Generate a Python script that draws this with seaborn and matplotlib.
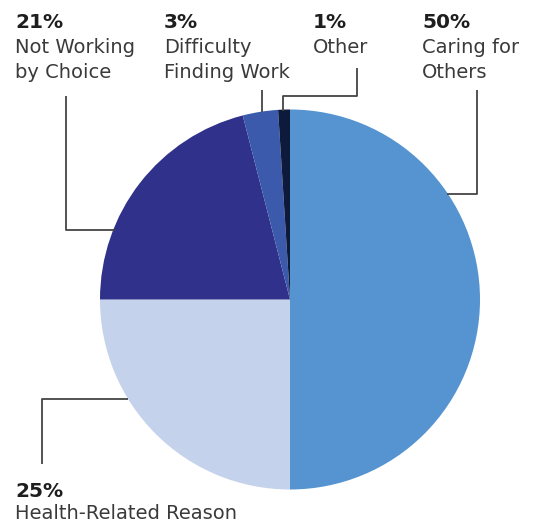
import matplotlib
matplotlib.use("Agg")
import matplotlib.pyplot as plt
import seaborn as sns

# data
categories = ["Caring for\nOthers", "Health-Related Reason", "Not Working\nby Choice",
              "Difficulty\nFinding Work", "Other"]
shares = [50, 25, 21, 3, 1]
colors = ["#5594d1", "#c5d2eb", "#2f318b", "#3b5aac", "#0d1a3b"]

sns.set_style("white")
plt.rcParams["font.family"] = ["DejaVu Sans"]

fig = plt.figure(figsize=(5.47, 5.29), dpi=100)
ax = fig.add_axes([0, 0, 1, 1])

# y axis is flipped later, so counterclock in data = clockwise on screen
ax.pie(shares, colors=colors, startangle=270, counterclock=True,
       center=(290, 299.5), radius=190,
       wedgeprops=dict(linewidth=0))
ax.set_xlim(0, 547)
ax.set_ylim(529, 0)
ax.set_aspect("equal")
ax.axis("off")

# leader lines
line_kw = dict(color="#444444", linewidth=1.3, solid_capstyle="butt")
ax.plot([476.5, 476.5, 447], [90, 193.5, 193.5], **line_kw)
ax.plot([65.5, 65.5, 115], [96, 229.5, 229.5], **line_kw)
ax.plot([261.5, 261.5], [90, 112], **line_kw)
ax.plot([356.5, 356.5, 283, 283], [68, 95.5, 95.5, 111], **line_kw)
ax.plot([42, 42, 128], [464, 399, 399], **line_kw)

# labels: (x, baseline of percent)
label_pos = [(422, 28), (15, 497), (15, 28), (164, 28), (313, 28)]
for (x, y), cat, val in zip(label_pos, categories, shares):
    ax.text(x, y, f"{val}%", fontsize=14.5, fontweight="bold", color="#1e1e1e",
            ha="left", va="baseline")
    step = 22 if val == 25 else 25
    for i, ln in enumerate(cat.split("\n")):
        ax.text(x, y + step + 25 * i, ln, fontsize=14,
                color="#3a3a3a", ha="left", va="baseline")

fig.savefig("out.png", dpi=100)
